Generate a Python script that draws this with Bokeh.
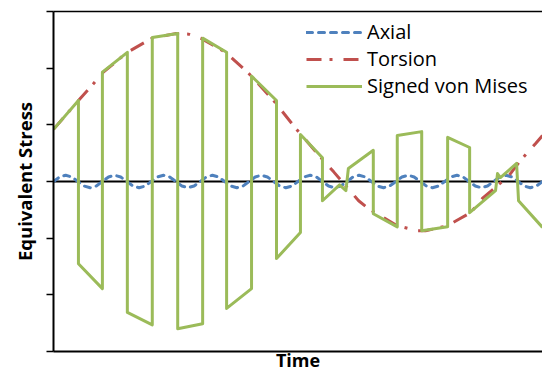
from bokeh.plotting import figure
from bokeh.models import Range1d, FixedTicker, Span, Legend, LegendItem, LinearAxis
from bokeh.embed import file_html
from bokeh.resources import INLINE

# ---- data (time in cycles of the axial load, stress in arbitrary units) ----
axial_time = [
    0.000, 0.125, 0.250, 0.375, 0.500, 0.625, 0.750, 0.875,
    1.000, 1.125, 1.250, 1.375, 1.500, 1.625, 1.750, 1.875,
    2.000, 2.125, 2.250, 2.375, 2.500, 2.625, 2.750, 2.875,
    3.000, 3.125, 3.250, 3.375, 3.500, 3.625, 3.750, 3.875,
    4.000, 4.125, 4.250, 4.375, 4.500, 4.625, 4.750, 4.875,
    5.000, 5.125, 5.250, 5.375, 5.500, 5.625, 5.750, 5.875,
    6.000, 6.125, 6.250, 6.375, 6.500, 6.625, 6.750, 6.875,
    7.000, 7.125, 7.250, 7.375, 7.500, 7.625, 7.750, 7.875,
    8.000, 8.125, 8.250, 8.375, 8.500, 8.625, 8.750, 8.875,
    9.000, 9.125, 9.250, 9.375, 9.500, 9.625, 9.750, 9.875,
    10.000,
]
axial_stress = [
    0.00, 0.08, 0.11, 0.08, 0.00, -0.08, -0.11, -0.08,
    0.00, 0.08, 0.11, 0.08, 0.00, -0.08, -0.11, -0.08,
    0.00, 0.08, 0.11, 0.08, 0.00, -0.08, -0.11, -0.08,
    0.00, 0.08, 0.11, 0.08, 0.00, -0.08, -0.11, -0.08,
    0.00, 0.08, 0.11, 0.08, 0.00, -0.08, -0.11, -0.08,
    0.00, 0.08, 0.11, 0.08, 0.00, -0.08, -0.11, -0.08,
    0.00, 0.08, 0.11, 0.08, 0.00, -0.08, -0.11, -0.08,
    0.00, 0.08, 0.11, 0.08, 0.00, -0.08, -0.11, -0.08,
    0.00, 0.08, 0.11, 0.08, 0.00, -0.08, -0.11, -0.08,
    0.00, 0.08, 0.11, 0.08, 0.00, -0.08, -0.11, -0.08,
    0.00,
]

torsion_time = [0.00, 0.51, 0.82, 1.02, 1.51, 2.02, 2.49, 2.76, 3.01, 3.52,
                3.99, 4.50, 4.95, 5.46, 5.73, 5.97, 6.24, 6.46, 7.03, 7.44,
                7.61, 8.06, 8.28, 8.53, 8.77, 9.30, 9.55, 9.86, 10.00]
torsion_stress = [0.92, 1.43, 1.73, 1.93, 2.28, 2.53, 2.61, 2.60, 2.53, 2.28,
                  1.91, 1.43, 0.94, 0.43, 0.17, -0.07, -0.34, -0.49, -0.78, -0.87,
                  -0.87, -0.78, -0.67, -0.55, -0.30, 0.09, 0.37, 0.67, 0.81]

vm_time = [0.00, 0.51, 0.51, 1.00, 1.00, 1.51, 1.51, 2.02, 2.02, 2.54,
           2.54, 3.05, 3.05, 3.54, 3.54, 4.05, 4.05, 4.56, 4.56, 5.05,
           5.05, 5.50, 5.50, 5.85, 5.98, 6.03, 6.54, 6.54, 7.03, 7.03,
           7.53, 7.53, 8.06, 8.06, 8.51, 8.51, 9.04, 9.08, 9.14, 9.47,
           9.51, 10.00]
vm_stress = [0.92, 1.43, -1.45, -1.89, 1.93, 2.28, -2.31, -2.53, 2.54, 2.61,
             -2.60, -2.51, 2.53, 2.28, -2.24, -1.89, 1.86, 1.43, -1.36, -0.90,
             0.83, 0.42, -0.34, -0.06, -0.16, 0.23, 0.55, -0.57, -0.80, 0.81,
             0.88, -0.87, -0.80, 0.78, 0.60, -0.55, -0.16, 0.14, 0.07, 0.32,
             -0.34, -0.81]

y_ticks = [-3, -2, -1, 0, 1, 2, 3]

BLUE = "#4F81BD"
RED = "#C0504D"
GREEN = "#9BBB59"
FONT = "Open Sans"

p = figure(width=542, height=375, output_backend="svg", toolbar_location=None,
           x_range=Range1d(0, 10), y_range=Range1d(-3, 3),
           min_border_left=53, min_border_right=0, min_border_top=11,
           min_border_bottom=24)
p.outline_line_color = None
p.grid.visible = False
p.background_fill_color = "white"
p.border_fill_color = "white"

# y axis
ya = p.yaxis[0]
ya.ticker = FixedTicker(ticks=y_ticks)
ya.minor_tick_line_color = None
ya.major_tick_in = 0
ya.major_tick_out = 7
ya.major_tick_line_width = 1.5
ya.major_tick_line_color = "black"
ya.axis_line_width = 2
ya.axis_line_color = "black"
ya.major_label_text_font_size = "0px"
ya.major_label_text_color = None
ya.major_label_standoff = 0
ya.axis_label = "Equivalent Stress"
ya.axis_label_text_font = FONT
ya.axis_label_text_font_style = "bold"
ya.axis_label_text_font_size = "18.5px"
ya.axis_label_text_color = "black"
ya.axis_label_standoff = 10

# x axis (bottom)
xa = p.xaxis[0]
xa.ticker = FixedTicker(ticks=[])
xa.minor_tick_line_color = None
xa.major_tick_out = 0
xa.major_tick_in = 0
xa.major_label_text_font_size = "0px"
xa.major_label_text_color = None
xa.major_label_standoff = 0
xa.axis_line_width = 2
xa.axis_line_color = "black"
xa.axis_label = "Time"
xa.axis_label_text_font = FONT
xa.axis_label_text_font_style = "bold"
xa.axis_label_text_font_size = "18px"
xa.axis_label_text_color = "black"
xa.axis_label_standoff = -4

# top border line
top = LinearAxis(ticker=FixedTicker(ticks=[]), minor_tick_line_color=None,
                 major_tick_out=0, major_tick_in=0, major_label_text_font_size="0px",
                 major_label_text_color=None, major_label_standoff=0,
                 axis_line_width=1.5, axis_line_color="black")
p.add_layout(top, "above")

# zero line
p.add_layout(Span(location=0, dimension="width", line_color="black", line_width=2,
                  level="underlay"))

r_ax = p.line(axial_time, axial_stress, line_color=BLUE, line_width=3,
              line_dash="6 6", line_cap="round")
r_to = p.line(torsion_time, torsion_stress, line_color=RED, line_width=3,
              line_dash="15 8 3 11")
r_vm = p.line(vm_time, vm_stress, line_color=GREEN, line_width=3, line_join="round")

legend = Legend(items=[LegendItem(label="Axial", renderers=[r_ax]),
                       LegendItem(label="Torsion", renderers=[r_to]),
                       LegendItem(label="Signed von Mises", renderers=[r_vm])],
                location=(253, 252), orientation="vertical",
                border_line_color=None, background_fill_alpha=0,
                padding=0, margin=0, spacing=0,
                glyph_width=56, glyph_height=26, label_height=26,
                label_standoff=5, label_text_font=FONT,
                label_text_font_size="20px", label_text_color="black")
p.add_layout(legend)

open("out.html", "w").write(file_html(p, INLINE))
